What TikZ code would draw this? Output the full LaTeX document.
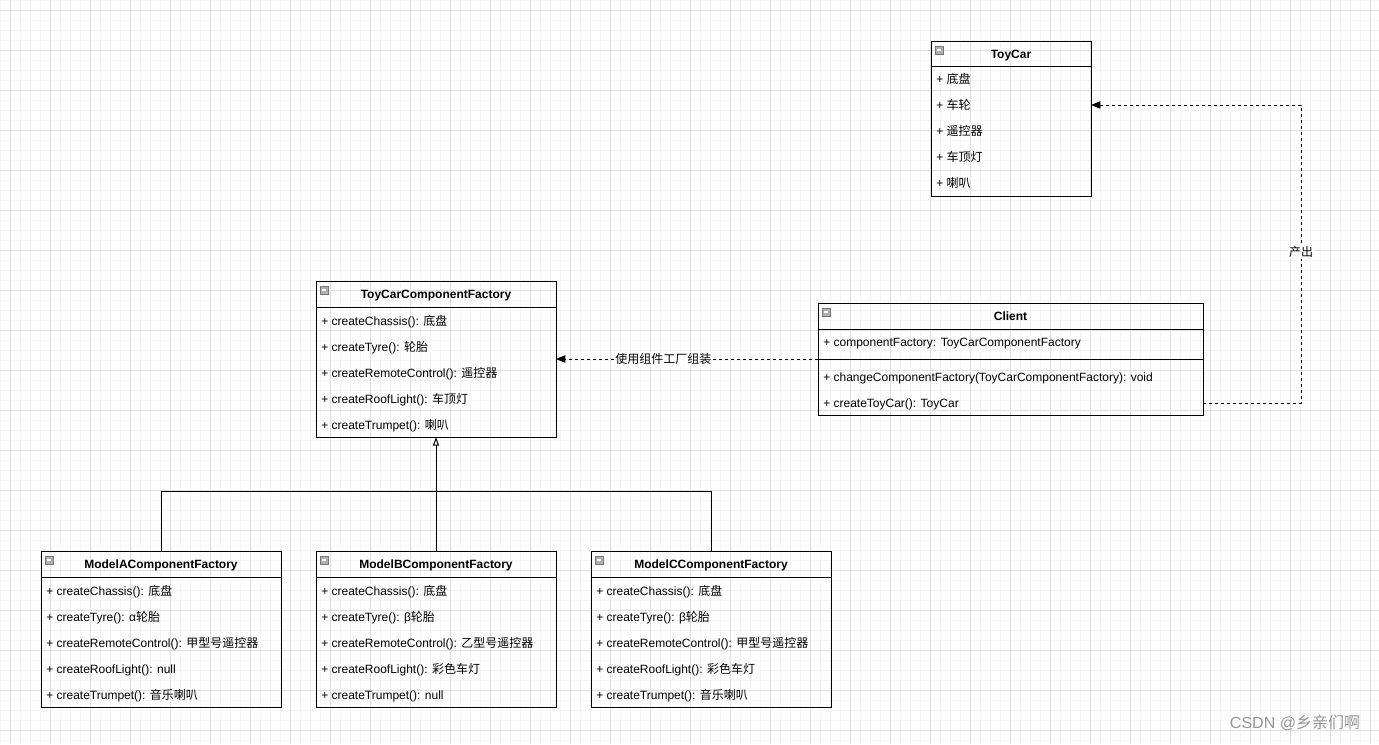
\documentclass[tikz,border=0pt]{standalone}
\usepackage{fontspec}
\setmainfont{Liberation Sans}
\newfontfamily\cjkfont{Noto Sans CJK SC}
\newcommand{\zh}[1]{{\cjkfont #1}}
\usetikzlibrary{arrows.meta}

\begin{document}
\begin{tikzpicture}[x=0.75pt,y=0.75pt,yscale=-1,xscale=1,
    font=\fontsize{9}{11}\selectfont,
    gridminor/.style={draw={rgb,255:red,245;green,245;blue,245}, line width=0.75pt},
    gridmajor/.style={draw={rgb,255:red,222;green,222;blue,222}, line width=0.75pt},
    classbox/.style={draw, line width=0.75pt, inner sep=0pt, outer sep=0pt, anchor=north west},
    classname/.style={font=\fontsize{9}{11}\selectfont\bfseries, inner sep=0pt, text height=6.75pt, text depth=1.75pt},
    member/.style={anchor=west, inner sep=0pt, text height=6.75pt, text depth=1.75pt},
    edgelabel/.style={fill=white, inner sep=0.75pt},
    uses/.style={line width=0.75pt, dash pattern={on 2.25pt off 2.25pt}, -{Triangle[length=7pt,width=5.5pt]}},
    extends/.style={line width=0.75pt, -{Triangle[open,length=6.5pt,width=4.5pt]}},
    watermark/.style={font=\fontsize{12}{14}\selectfont, text={rgb,255:red,150;green,150;blue,150}, inner sep=0pt},
    foldicon/.pic={
        \draw [draw={rgb,255:red,120;green,120;blue,120}, fill={rgb,255:red,175;green,175;blue,175}] (0,0) rectangle (8,-8) ;
        \draw [white, line width=1pt] (2,-4) -- (6,-4) ;
    }
]
\useasboundingbox (0,0) rectangle (1379,744);
\fill [white] (0,0) rectangle (1379,744);

% grid
\foreach \gx in {0,10,...,1370} \draw [gridminor] (\gx,0) -- (\gx,744);
\foreach \gy in {0,10,...,740} \draw [gridminor] (0,\gy) -- (1379,\gy);
\foreach \gx in {10,50,...,1370} \draw [gridmajor] (\gx,0) -- (\gx,744);
\foreach \gy in {10,50,...,730} \draw [gridmajor] (0,\gy) -- (1379,\gy);

% ToyCar
\node [classbox, minimum width=120pt, minimum height=116.25pt] (toycar) at (931,41) {};
\draw (931,66) -- (1091,66);
\pic at (935,46) {foldicon};
\node [classname] (toycar-name) at (1011,55) {ToyCar};
\foreach \txt [count=\k] in {+ \zh{底盘}, + \zh{车轮}, + \zh{遥控器}, + \zh{车顶灯}, + \zh{喇叭}}
    \node [member] (toycar-\k) at (936,{54+26*\k}) {\txt};

% abstract factory
\node [classbox, minimum width=180pt, minimum height=117pt] (factory) at (316,281) {};
\draw (316,307) -- (556,307);
\pic at (320,286) {foldicon};
\node [classname] (factory-name) at (436,295) {ToyCarComponentFactory};
\foreach \txt [count=\k] in {+ createChassis(): \zh{底盘}, + createTyre(): \zh{轮胎}, + createRemoteControl(): \zh{遥控器}, + createRoofLight(): \zh{车顶灯}, + createTrumpet(): \zh{喇叭}}
    \node [member] (factory-\k) at (321,{296+26*\k}) {\txt};

% Client
\node [classbox, minimum width=288.75pt, minimum height=84pt] (client) at (818,303) {};
\draw (818,329) -- (1203,329);
\draw (818,359) -- (1203,359);
\pic at (822,308) {foldicon};
\node [classname] (client-name) at (1010.5,317) {Client};
\node [member] (client-1) at (823,343) {+ componentFactory: ToyCarComponentFactory};
\node [member] (client-2) at (823,378) {+ changeComponentFactory(ToyCarComponentFactory): void};
\node [member] (client-3) at (823,404) {+ createToyCar(): ToyCar};

% concrete factories
\node [classbox, minimum width=180pt, minimum height=117pt] (modelA) at (41,551) {};
\draw (41,577) -- (281,577);
\pic at (45,556) {foldicon};
\node [classname] (modelA-name) at (161,565) {ModelAComponentFactory};
\foreach \txt [count=\k] in {+ createChassis(): \zh{底盘}, + createTyre(): α\zh{轮胎}, + createRemoteControl(): \zh{甲型号遥控器}, + createRoofLight(): null, + createTrumpet(): \zh{音乐喇叭}}
    \node [member] (modelA-\k) at (46,{566+26*\k}) {\txt};

\node [classbox, minimum width=180pt, minimum height=117pt] (modelB) at (316,551) {};
\draw (316,577) -- (556,577);
\pic at (320,556) {foldicon};
\node [classname] (modelB-name) at (436,565) {ModelBComponentFactory};
\foreach \txt [count=\k] in {+ createChassis(): \zh{底盘}, + createTyre(): β\zh{轮胎}, + createRemoteControl(): \zh{乙型号遥控器}, + createRoofLight(): \zh{彩色车灯}, + createTrumpet(): null}
    \node [member] (modelB-\k) at (321,{566+26*\k}) {\txt};

\node [classbox, minimum width=180pt, minimum height=117pt] (modelC) at (591,551) {};
\draw (591,577) -- (831,577);
\pic at (595,556) {foldicon};
\node [classname] (modelC-name) at (711,565) {ModelCComponentFactory};
\foreach \txt [count=\k] in {+ createChassis(): \zh{底盘}, + createTyre(): β\zh{轮胎}, + createRemoteControl(): \zh{甲型号遥控器}, + createRoofLight(): \zh{彩色车灯}, + createTrumpet(): \zh{音乐喇叭}}
    \node [member] (modelC-\k) at (596,{566+26*\k}) {\txt};

% generalization
\coordinate (joint) at (436,491);
\draw [extends] (modelB.north) -- (factory.south);
\draw [line width=0.75pt] (modelA.north) |- (joint) -| (modelC.north);

% dependencies
\draw [uses] (client.west) -- (client.west -| factory.east) node [edgelabel, pos=0.59] (uses-label) {\zh{使用组件工厂组装}};
\coordinate (bend) at (1301,252);
\draw [uses] ([yshift=-9pt]client.south east) -| (bend) |- ([yshift=48pt]toycar.north east);
\node [edgelabel] (produce-label) at (bend) {\zh{产出}};

\node [watermark] (mark) at (1295,723) {CSDN @\zh{乡亲们啊}};
\end{tikzpicture}
\end{document}
